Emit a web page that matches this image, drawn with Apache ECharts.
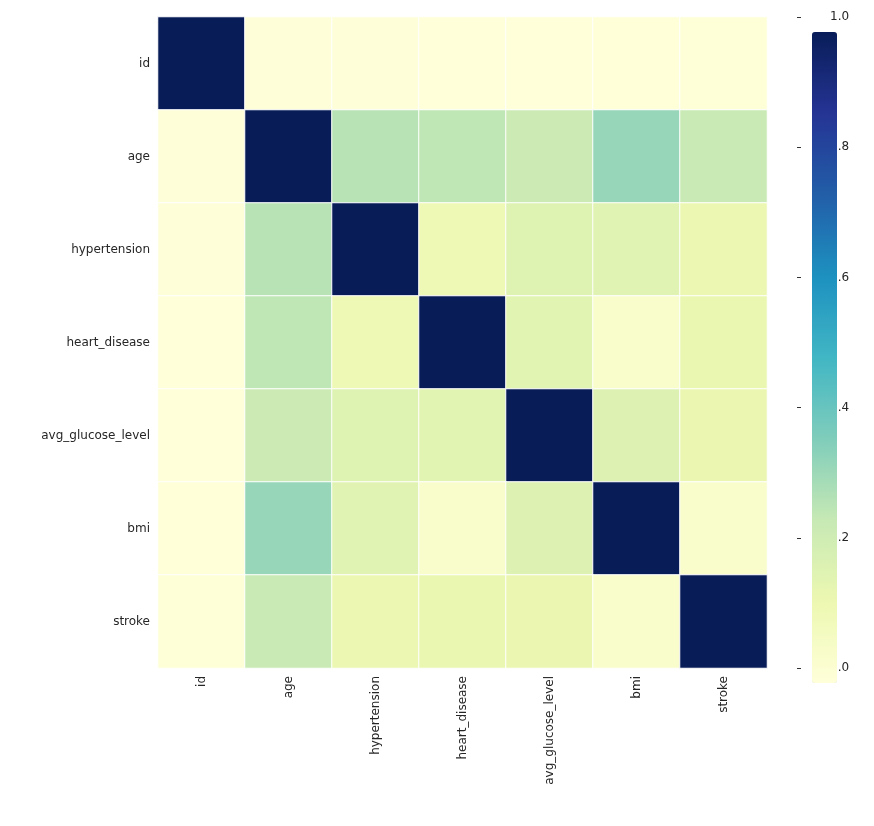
<!DOCTYPE html>
<html><head><meta charset="utf-8">
<script src="https://cdn.jsdelivr.net/npm/echarts@6/dist/echarts.min.js"></script>
<style>html,body{margin:0;padding:0;background:#fff}#c{width:874px;height:826px}</style>
</head><body><div id="c"></div>
<script>
const labels = ['id','age','hypertension','heart_disease','avg_glucose_level','bmi','stroke'];
const corr = [
 [1.000, 0.004, 0.004, -0.001, 0.001, 0.003, 0.006],
 [0.004, 1.000, 0.276, 0.264, 0.238, 0.333, 0.245],
 [0.004, 0.276, 1.000, 0.108, 0.174, 0.168, 0.128],
 [-0.001,0.264, 0.108, 1.000, 0.162, 0.041, 0.135],
 [0.001, 0.238, 0.174, 0.162, 1.000, 0.176, 0.132],
 [0.003, 0.333, 0.168, 0.041, 0.176, 1.000, 0.042],
 [0.006, 0.245, 0.128, 0.135, 0.132, 0.042, 1.000]
];
const cbTicks = ['0.0','0.2','0.4','0.6','0.8','1.0'];
const data = [];
corr.forEach((row,i)=>row.forEach((v,j)=>data.push([j,i,Math.max(0,v)])));
const font = 'DejaVu Sans';
const chart = echarts.init(document.getElementById('c'));
chart.setOption({
  animation:false,
  textStyle:{fontFamily:font},
  grid:[{left:158,top:17,width:609,height:651},{left:797,top:17,width:25,height:651}],
  xAxis:[{type:'category',data:labels,gridIndex:0,axisLine:{show:false},axisTick:{length:4,lineStyle:{color:'#333'}},
    axisLabel:{rotate:90,color:'#262626',fontSize:12,fontFamily:font,margin:8},splitLine:{show:false}},
    {type:'value',gridIndex:1,show:false,min:0,max:1}],
  yAxis:[{type:'category',data:labels,inverse:true,gridIndex:0,axisLine:{show:false},axisTick:{length:4,lineStyle:{color:'#333'}},
    axisLabel:{color:'#262626',fontSize:12,fontFamily:font,margin:8},splitLine:{show:false}},
    {type:'value',gridIndex:1,position:'right',min:0,max:1,interval:0.2,axisLine:{show:false},
     axisTick:{show:true,length:4,lineStyle:{color:'#333'}},splitLine:{show:false},
     axisLabel:{color:'#262626',fontSize:12,fontFamily:font,margin:8,formatter:(v)=>cbTicks[Math.round(v*5)]}}],
  visualMap:{min:0,max:1,calculable:false,show:true,seriesIndex:0,orient:'vertical',
    left:797,top:17,itemWidth:25,itemHeight:651,text:['',''],showLabel:false,
    inRange:{color:['#ffffd9','#edf8b1','#c7e9b4','#7fcdbb','#41b6c4','#1d91c0','#225ea8','#253494','#081d58']}},
  series:[{type:'heatmap',data:data,xAxisIndex:0,yAxisIndex:0,itemStyle:{borderColor:'#fff',borderWidth:1},
    emphasis:{disabled:true}}]
});
</script></body></html>
